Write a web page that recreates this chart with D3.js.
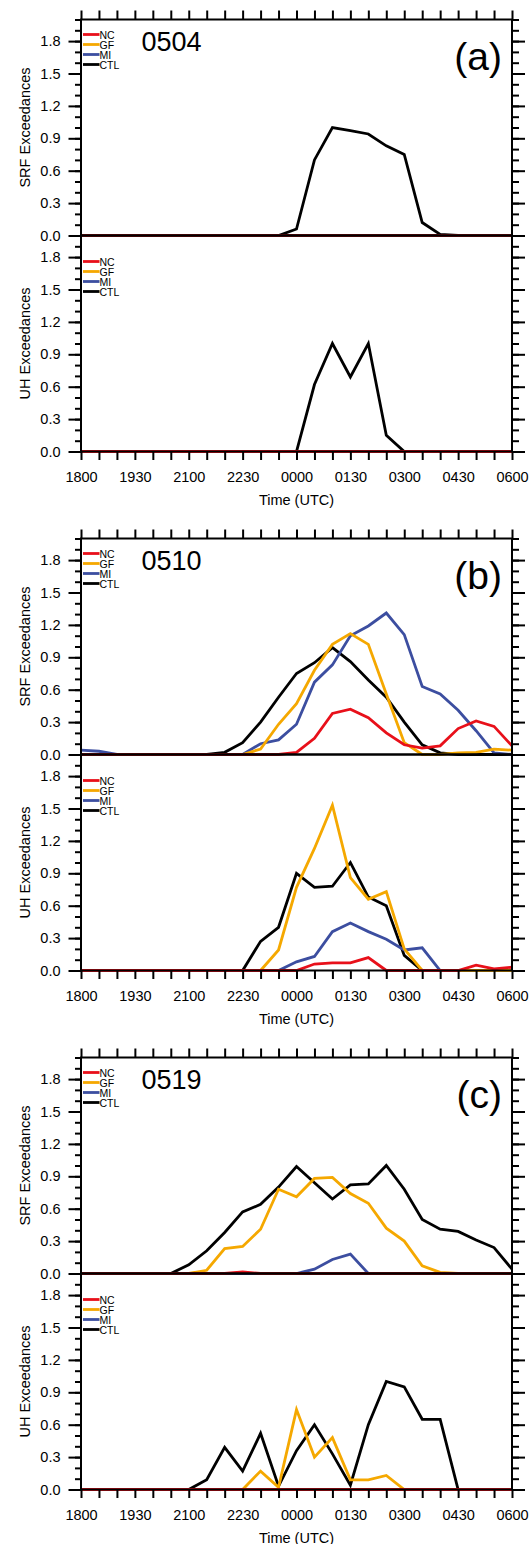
<!DOCTYPE html>
<html>
<head>
<meta charset="utf-8">
<script src="https://cdn.jsdelivr.net/npm/d3@7"></script>
<style>
body { margin: 0; background: #fff; }
svg { display: block; font-family: "Liberation Sans", Helvetica, Arial, sans-serif; }
</style>
</head>
<body>
<svg width="532" height="1544"></svg>
<script>
// time axis (every 30 min), labels every 90 min
var times = ["1800","1830","1900","1930","2000","2030","2100","2130","2200","2230","2300","2330",
             "0000","0030","0100","0130","0200","0230","0300","0330","0400","0430","0500","0530","0600"];
var yMajor = [0, 0.3, 0.6, 0.9, 1.2, 1.5, 1.8];
var yMinor = [0,0.1,0.2,0.3,0.4,0.5,0.6,0.7,0.8,0.9,1.0,1.1,1.2,1.3,1.4,1.5,1.6,1.7,1.8,1.9,2.0];
var seriesNames = ["NC", "GF", "MI", "CTL"];
var seriesColors = ["#e8101a", "#f5a800", "#3c4ea0", "#000000"];
var panelDates = ["0504", "0510", "0519"];
var panelTags = ["(a)", "(b)", "(c)"];

// 0504
var a_srf_nc  = [0,0,0,0,0,0,0,0,0,0,0,0,0,0,0,0,0,0,0,0,0,0,0,0,0];
var a_srf_gf  = [0,0,0,0,0,0,0,0,0,0,0,0,0,0,0,0,0,0,0,0,0,0,0,0,0];
var a_srf_mi  = [0,0,0,0,0,0,0,0,0,0,0,0,0,0,0,0,0,0,0,0,0,0,0,0,0];
var a_srf_ctl = [0,0,0,0,0,0,0,0,0,0,0,0,0.06,0.70,1.0,0.97,0.94,0.83,0.75,0.12,0.01,0,0,0,0];
var a_uh_nc   = [0,0,0,0,0,0,0,0,0,0,0,0,0,0,0,0,0,0,0,0,0,0,0,0,0];
var a_uh_gf   = [0,0,0,0,0,0,0,0,0,0,0,0,0,0,0,0,0,0,0,0,0,0,0,0,0];
var a_uh_mi   = [0,0,0,0,0,0,0,0,0,0,0,0,0,0,0,0,0,0,0,0,0,0,0,0,0];
var a_uh_ctl  = [0,0,0,0,0,0,0,0,0,0,0,0,0,0.62,1.0,0.69,1.0,0.15,0,0,0,0,0,0,0];

// 0510
var b_srf_nc  = [0,0,0,0,0,0,0,0,0,0,0,0,0.02,0.15,0.38,0.42,0.34,0.20,0.09,0.06,0.08,0.24,0.31,0.26,0.08];
var b_srf_gf  = [0,0,0,0,0,0,0,0,0,0,0.05,0.28,0.47,0.78,1.02,1.12,1.02,0.56,0.11,0,0,0.015,0.02,0.05,0.04];
var b_srf_mi  = [0.04,0.03,0,0,0,0,0,0,0,0,0.10,0.135,0.28,0.67,0.83,1.10,1.19,1.31,1.11,0.63,0.56,0.41,0.22,0.015,0];
var b_srf_ctl = [0,0,0,0,0,0,0,0,0.02,0.11,0.30,0.53,0.75,0.85,0.99,0.86,0.69,0.53,0.30,0.09,0.015,0,0,0,0];
var b_uh_nc   = [0,0,0,0,0,0,0,0,0,0,0,0,0,0.06,0.07,0.07,0.12,0,0,0,0,0,0.05,0.015,0.03];
var b_uh_gf   = [0,0,0,0,0,0,0,0,0,0,0,0.19,0.77,1.13,1.53,0.86,0.66,0.73,0.20,0,0,0,0,0,0];
var b_uh_mi   = [0,0,0,0,0,0,0,0,0,0,0,0,0.08,0.13,0.36,0.44,0.36,0.29,0.19,0.21,0,0,0,0,0];
var b_uh_ctl  = [0,0,0,0,0,0,0,0,0,0,0.27,0.40,0.90,0.77,0.78,1.0,0.68,0.60,0.14,0,0,0,0,0,0];

// 0519
var c_srf_nc  = [0,0,0,0,0,0,0,0,0,0.015,0,0,0,0,0,0,0,0,0,0,0,0,0,0,0];
var c_srf_gf  = [0,0,0,0,0,0,0,0.03,0.23,0.25,0.41,0.78,0.71,0.88,0.89,0.74,0.65,0.42,0.30,0.07,0.01,0,0,0,0];
var c_srf_mi  = [0,0,0,0,0,0,0,0,0,0,0,0,0,0.04,0.13,0.18,0,0,0,0,0,0,0,0,0];
var c_srf_ctl = [0,0,0,0,0,0,0.08,0.21,0.38,0.57,0.64,0.80,0.99,0.84,0.69,0.82,0.83,1.0,0.78,0.50,0.41,0.39,0.31,0.24,0.04];
var c_uh_nc   = [0,0,0,0,0,0,0,0,0,0,0,0,0,0,0,0,0,0,0,0,0,0,0,0,0];
var c_uh_gf   = [0,0,0,0,0,0,0,0,0,0,0.17,0.02,0.74,0.30,0.48,0.09,0.09,0.13,0,0,0,0,0,0,0];
var c_uh_mi   = [0,0,0,0,0,0,0,0,0,0,0,0,0,0,0,0,0,0,0,0,0,0,0,0,0];
var c_uh_ctl  = [0,0,0,0,0,0,0,0.09,0.39,0.17,0.52,0.03,0.36,0.60,0.33,0.04,0.60,1.0,0.95,0.65,0.65,0,0,0,0];

var panels = [
	{srf: [a_srf_nc, a_srf_gf, a_srf_mi, a_srf_ctl], uh: [a_uh_nc, a_uh_gf, a_uh_mi, a_uh_ctl]},
	{srf: [b_srf_nc, b_srf_gf, b_srf_mi, b_srf_ctl], uh: [b_uh_nc, b_uh_gf, b_uh_mi, b_uh_ctl]},
	{srf: [c_srf_nc, c_srf_gf, c_srf_mi, c_srf_ctl], uh: [c_uh_nc, c_uh_gf, c_uh_mi, c_uh_ctl]}
];

var left = 81, right = 512, plotH = 216, panelStep = 519, firstTop = 19.5;

var svg = d3.select('svg');

var x = d3.scalePoint()
	.domain(times)
	.range([left, right]);

function drawPlot(g, top, data, label, legendOff, isBottom, isTop){
	var y = d3.scaleLinear().domain([0, 2.0]).range([top + plotH, top]);

	// data lines, CTL drawn first so coloured runs sit on top
	var line = d3.line()
		.x(function(d, i){ return x(times[i]); })
		.y(function(d){ return y(d); });
	[3, 2, 1, 0].forEach(function(k){
		g.append('path')
			.datum(data[k])
			.attr('d', line)
			.attr('fill', 'none')
			.attr('stroke', seriesColors[k])
			.attr('stroke-width', 2.8)
			.attr('stroke-linejoin', 'miter');
	});

	// y axes left/right: minor + major
	var yl = g.append('g').attr('transform', 'translate(' + left + ',0)');
	yl.call(d3.axisLeft(y).tickValues(yMinor).tickSize(6).tickFormat(''));
	var ylm = g.append('g').attr('transform', 'translate(' + left + ',0)');
	ylm.call(d3.axisLeft(y).tickValues(yMajor).tickSize(12.5).tickPadding(8).tickFormat(d3.format('.1f')));
	var yr = g.append('g').attr('transform', 'translate(' + right + ',0)');
	yr.call(d3.axisRight(y).tickValues(yMinor).tickSize(7).tickFormat(''));
	var yrm = g.append('g').attr('transform', 'translate(' + right + ',0)');
	yrm.call(d3.axisRight(y).tickValues(yMajor).tickSize(13).tickFormat(''));
	[yl, ylm, yr, yrm].forEach(function(a){
		a.select('.domain').remove();
		a.selectAll('line').attr('stroke', '#000').attr('stroke-width', 2);
		a.selectAll('text').attr('font-size', '14.5px').attr('fill', '#000');
	});

	if (isTop){
		var xt = g.append('g').attr('transform', 'translate(0,' + top + ')')
			.call(d3.axisTop(x).tickSize(9).tickFormat(''));
		xt.select('.domain').remove();
		xt.selectAll('line').attr('stroke', '#000').attr('stroke-width', 2);
	}
	if (isBottom){
		var xb = g.append('g').attr('transform', 'translate(0,' + (top + plotH) + ')')
			.call(d3.axisBottom(x).tickSize(8.5).tickPadding(12)
				.tickFormat(function(d, i){ return i % 3 === 0 ? d : ''; }));
		xb.select('.domain').remove();
		xb.selectAll('line').attr('stroke', '#000').attr('stroke-width', 2);
		xb.selectAll('text').attr('font-size', '14.5px').attr('fill', '#000');
		g.append('text')
			.attr('x', (left + right) / 2)
			.attr('y', top + plotH + 53)
			.attr('text-anchor', 'middle')
			.attr('font-size', '14.5px')
			.text('Time (UTC)');
	}

	// frame
	g.append('rect')
		.attr('x', left).attr('y', top)
		.attr('width', right - left).attr('height', plotH)
		.attr('fill', 'none').attr('stroke', '#000').attr('stroke-width', 2);

	// y label
	g.append('text')
		.attr('transform', 'translate(25,' + (top + plotH / 2) + ') rotate(-90)')
		.attr('text-anchor', 'middle')
		.attr('dy', '0.35em')
		.attr('font-size', '14.5px')
		.text(label);

	// legend
	seriesNames.forEach(function(n, k){
		var ly = top + legendOff + k * 10;
		g.append('line')
			.attr('x1', 83).attr('x2', 99.5)
			.attr('y1', ly).attr('y2', ly)
			.attr('stroke', seriesColors[k]).attr('stroke-width', 2.8);
		g.append('text')
			.attr('x', 99.5).attr('y', ly + 4)
			.attr('font-size', '10.5px')
			.text(n);
	});
}

panels.forEach(function(p, i){
	var top = firstTop + i * panelStep;
	var g = svg.append('g');
	drawPlot(g, top, p.srf, 'SRF Exceedances', 15, false, true);
	drawPlot(g, top + plotH, p.uh, 'UH Exceedances', 26, true, false);

	g.append('text')
		.attr('x', 141.5).attr('y', top + 31.2)
		.attr('font-size', '27px')
		.text(panelDates[i]);
	g.append('text')
		.attr('x', 502).attr('y', top + 50.5)
		.attr('text-anchor', 'end')
		.attr('font-size', '39px')
		.text(panelTags[i]);
});
</script>
</body>
</html>
